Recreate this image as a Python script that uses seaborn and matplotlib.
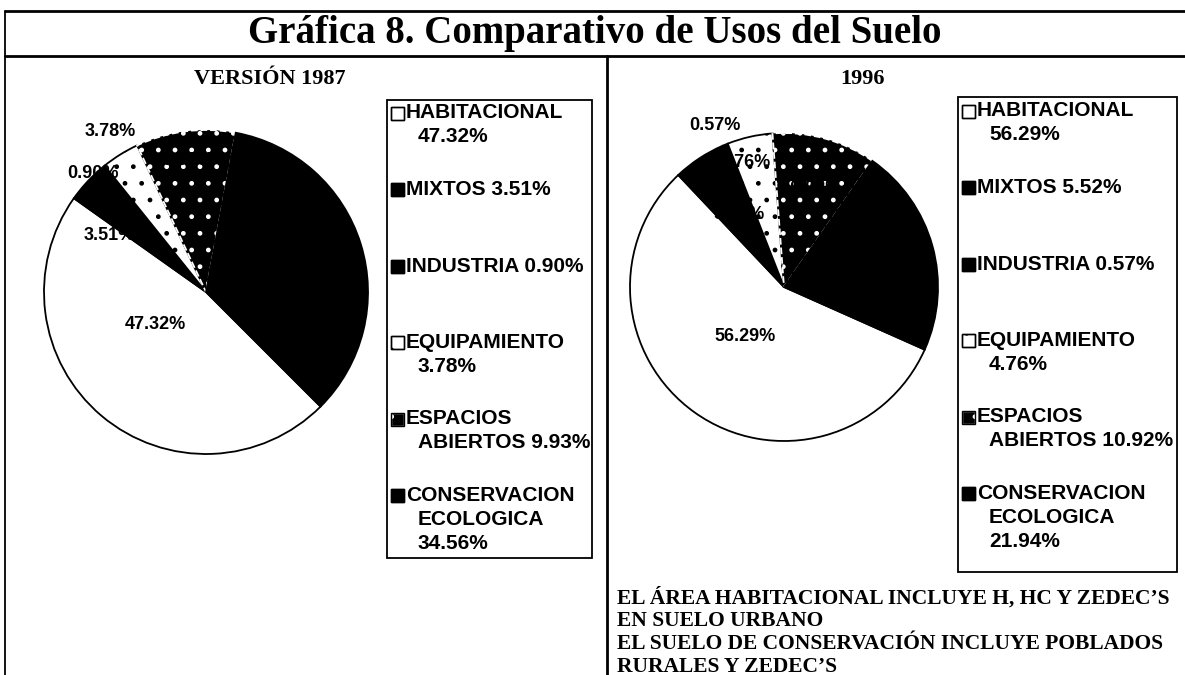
import matplotlib
matplotlib.use("Agg")
import matplotlib.pyplot as plt
import seaborn as sns
from matplotlib.patches import Rectangle

# ---------------- data ----------------
categorias = ["HABITACIONAL", "MIXTOS", "INDUSTRIA", "EQUIPAMIENTO",
              "ESPACIOS ABIERTOS", "CONSERVACION ECOLOGICA"]
valores_1987 = [47.32, 3.51, 0.90, 3.78, 9.93, 34.56]
valores_1996 = [56.29, 5.52, 0.57, 4.76, 10.92, 21.94]
titulo = "Gráfica 8. Comparativo de Usos del Suelo"
subtitulos = ["VERSIÓN 1987", "1996"]
leyenda_formato = ["HABITACIONAL\n{}%", "MIXTOS {}%", "INDUSTRIA {}%",
                   "EQUIPAMIENTO\n{}%", "ESPACIOS\nABIERTOS {}%",
                   "CONSERVACION\nECOLOGICA\n{}%"]
notas = ["EL ÁREA HABITACIONAL INCLUYE H, HC Y ZEDEC’S",
         "EN SUELO URBANO",
         "EL SUELO DE CONSERVACIÓN INCLUYE POBLADOS",
         "RURALES Y ZEDEC’S"]

# ---------------- styles ----------------
caras = ["white", "black", "black", "white", "black", "black"]
bordes = ["black", "black", "black", "black", "white", "black"]
tramas = [None, None, None, ".", ".", None]
estilos_borde = ["-", "-", "-", "-", "--", "-"]
# label placement (pie-radius units) for the percentage texts
pos_1987 = [(-0.31, -0.20), (-0.60, 0.35), (-0.70, 0.73), (-0.59, 0.99),
            (-0.11, 0.81), (0.56, 0.21)]
pos_1996 = [(-0.25, -0.32), (-0.29, 0.47), (-0.45, 1.05), (-0.25, 0.81),
            (0.18, 0.64), (0.58, 0.16)]

sns.set_theme(style="white")
plt.rcParams["hatch.linewidth"] = 1.0
plt.rcParams["text.color"] = "black"
SANS = ["Liberation Sans", "DejaVu Sans"]
SERIF = ["Liberation Serif", "DejaVu Serif"]

W, H = 1185, 675
fig = plt.figure(figsize=(W / 100, H / 100), dpi=100)
fig.patch.set_facecolor("white")

bg = fig.add_axes([0, 0, 1, 1])
bg.set_xlim(0, W)
bg.set_ylim(H, 0)
bg.axis("off")

# frame
bg.plot([5, W], [11, 11], color="black", lw=2)
bg.plot([5, W], [56, 56], color="black", lw=2)
bg.plot([5, 5], [11, H], color="black", lw=1.3)
bg.plot([607, 607], [56, H], color="black", lw=2)

bg.text(595, 34, titulo, ha="center", va="center", fontsize=28,
        family=SERIF, fontweight="bold", color="black")
bg.text(270, 79, subtitulos[0], ha="center", va="center", fontsize=16,
        family=SERIF, fontweight="bold", color="black")
bg.text(862, 79, subtitulos[1], ha="center", va="center", fontsize=16,
        family=SERIF, fontweight="bold", color="black")


def draw_pie(valores, cx, cy, r, start, posiciones):
    ax = fig.add_axes([(cx - r) / W, 1 - (cy + r) / H, 2 * r / W, 2 * r / H])
    ax.set_zorder(2)
    ax.patch.set_alpha(0)
    wedges, _ = ax.pie(valores, colors=caras, startangle=start,
                       counterclock=False, radius=1,
                       wedgeprops=dict(linewidth=1.3, edgecolor="black"))
    for w, fc, ec, h, ls in zip(wedges, caras, bordes, tramas, estilos_borde):
        w.set_facecolor(fc)
        w.set_edgecolor(ec)
        w.set_linestyle(ls)
        if h:
            w.set_hatch(h)
    for v, (x, y) in zip(valores, posiciones):
        ax.text(x, y, "{:.2f}%".format(v), ha="center", va="center",
                fontsize=13, family=SANS, fontweight="bold", color="black")
    ax.set_xlim(-1, 1)
    ax.set_ylim(-1, 1)
    ax.set_aspect("equal")
    ax.axis("off")
    return ax


draw_pie(valores_1987, 206, 292, 162, -45, pos_1987)
draw_pie(valores_1996, 784, 287, 154, -24, pos_1996)


def draw_legend(valores, x0, y0, x1, y1, first_y, step):
    bg.add_patch(Rectangle((x0, y0), x1 - x0, y1 - y0, fill=False,
                           edgecolor="black", lw=1.3))
    for i, (v, fmt) in enumerate(zip(valores, leyenda_formato)):
        lines = fmt.format("{:.2f}".format(v)).split("\n")
        yc = first_y + i * step
        mx = x0 + 4
        bg.add_patch(Rectangle((mx, yc - 6.5), 13, 13, facecolor=caras[i],
                               edgecolor=bordes[i], hatch=tramas[i], lw=1))
        bg.add_patch(Rectangle((mx, yc - 6.5), 13, 13, fill=False,
                               edgecolor="black", lw=1))
        for j, ln in enumerate(lines):
            tx = mx + 15 if j == 0 else mx + 27
            bg.text(tx, yc + j * 24, ln, ha="left", va="center",
                    fontsize=15, family=SANS, fontweight="bold",
                    color="black")


draw_legend(valores_1987, 387, 100, 592, 558, 113, 76.5)
draw_legend(valores_1996, 958, 97, 1177, 572, 111, 76.5)

for k, ln in enumerate(notas):
    bg.text(617, 598 + k * 23, ln, ha="left", va="center", fontsize=15.5,
            family=SERIF, fontweight="bold", color="black")

fig.savefig("out.png", dpi=100, facecolor="white")
